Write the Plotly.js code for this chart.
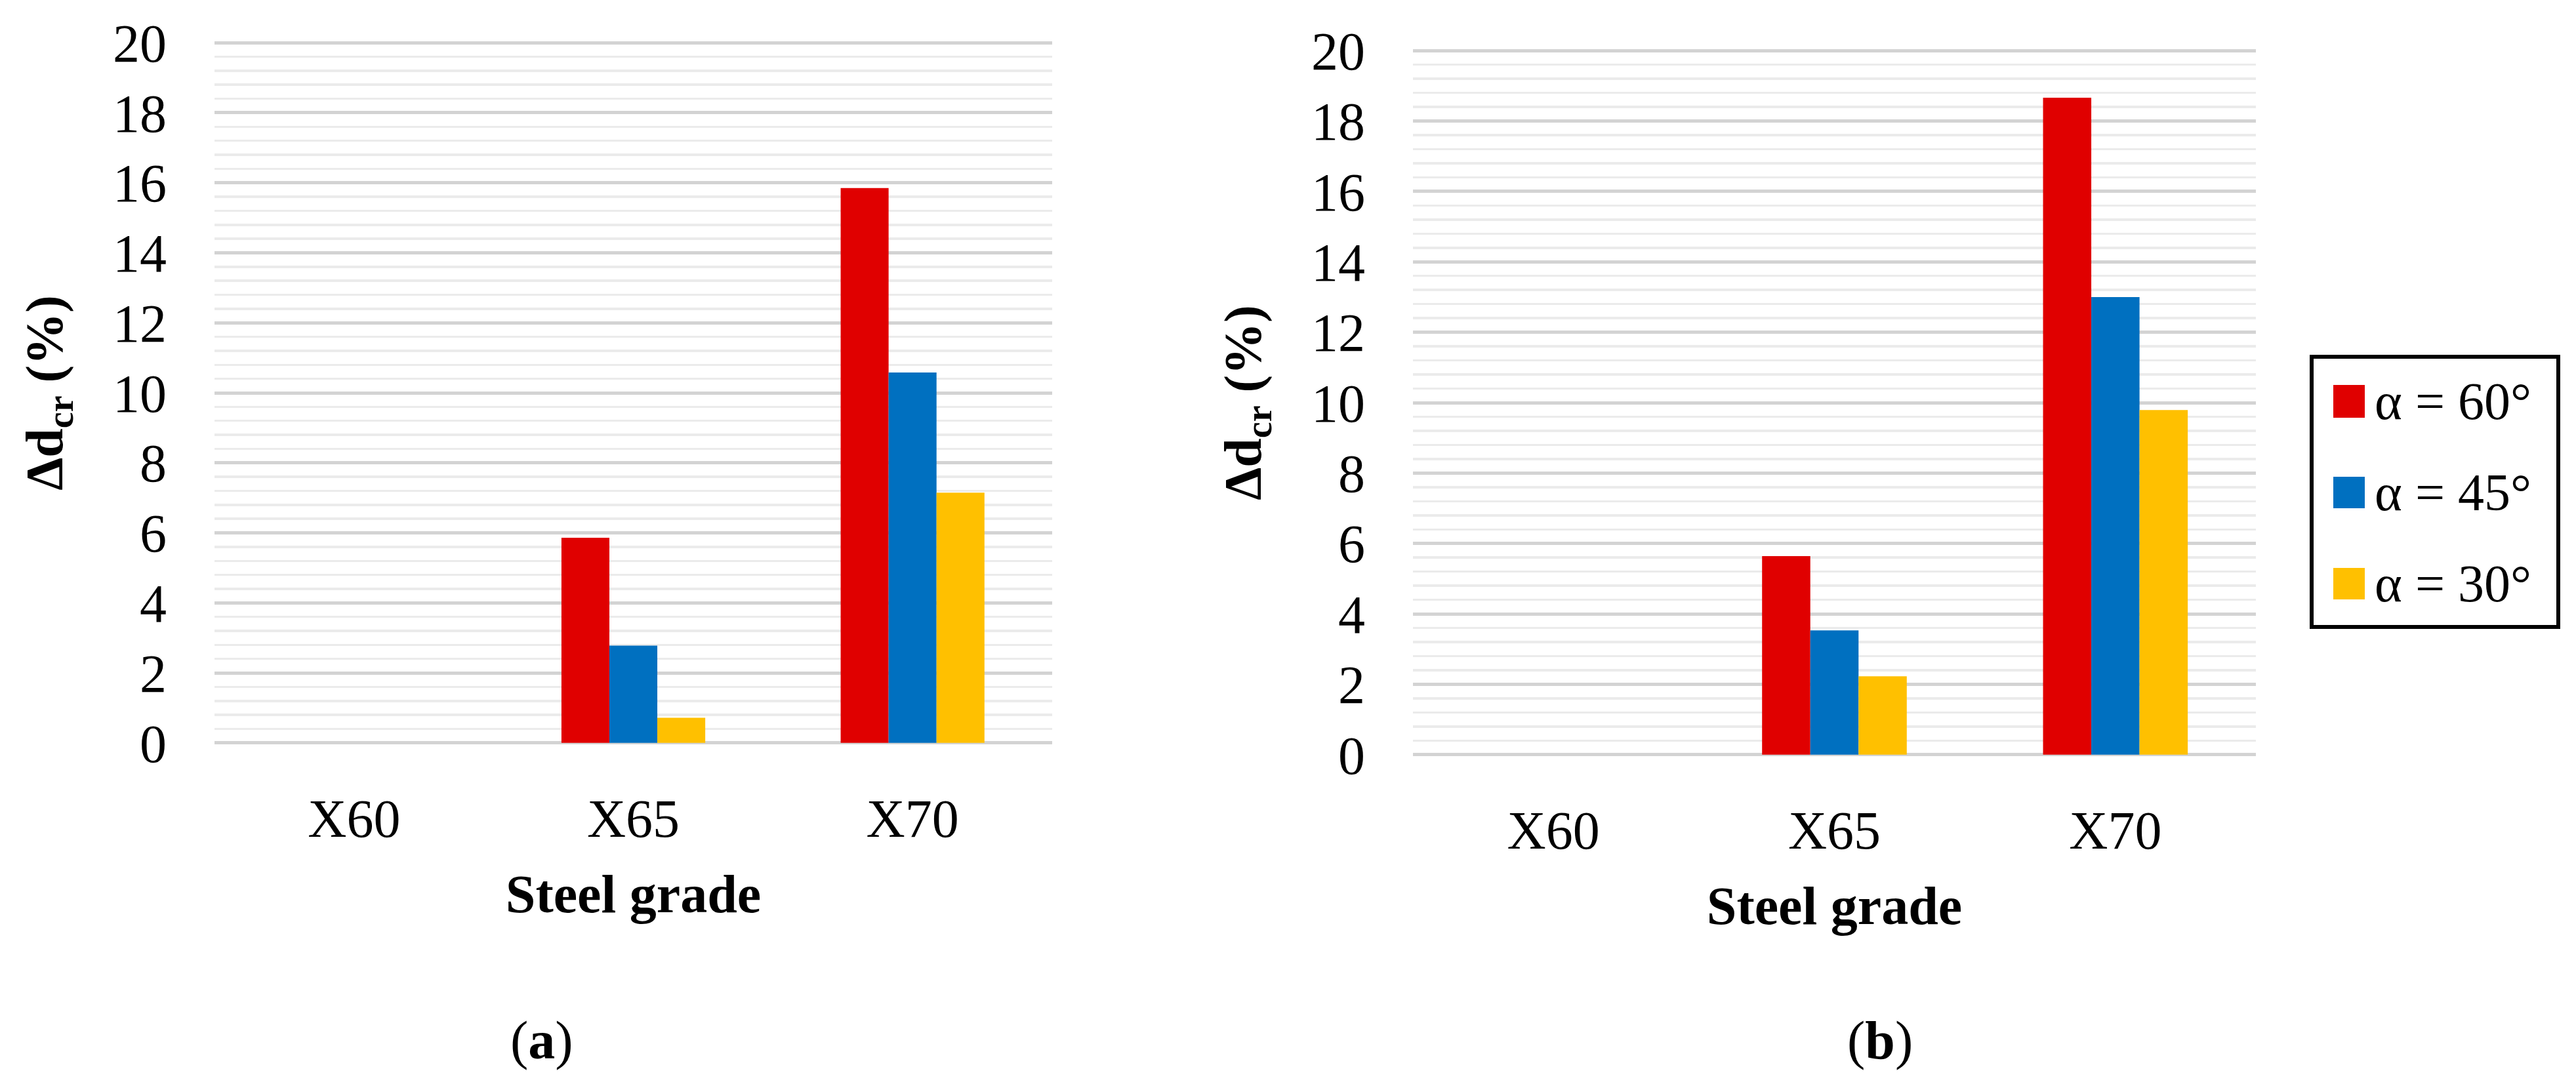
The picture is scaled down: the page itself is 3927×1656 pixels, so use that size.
<!DOCTYPE html>
<html>
<head>
<meta charset="utf-8">
<script src="https://cdn.plot.ly/plotly-3.0.1.min.js"></script>
<style>html,body{margin:0;padding:0;background:#fff;}</style>
</head>
<body>
<div id="chart" style="width:3927px;height:1656px;"></div>
<script>
// ---- data ----
var categories = ['X60', 'X65', 'X70'];
var seriesNames = ['α = 60°', 'α = 45°', 'α = 30°'];
var seriesColors = ['#E00000', '#0070C0', '#FFC000'];
var a60 = [0, 5.86, 15.85];
var a45 = [0, 2.78, 10.58];
var a30 = [0, 0.72, 7.15];
var b60 = [0, 5.64, 18.66];
var b45 = [0, 3.53, 13.00];
var b30 = [0, 2.23, 9.79];
var yTickVals = [0, 2, 4, 6, 8, 10, 12, 14, 16, 18, 20];
var panelLabels = ['(<b>a</b>)', '(<b>b</b>)'];
var xTitle = 'Steel grade';
var yTitle = 'Δd<sub>cr</sub> (%)';

// ---- layout helpers ----
var W = 3927, H = 1656;
function px(x) { return x / W; }
function py(y) { return 1 - y / H; }
var FONT = 'Liberation Serif, Times New Roman, serif';

var seriesA = [a60, a45, a30];
var seriesB = [b60, b45, b30];
var traces = [];
seriesA.forEach(function (vals, i) {
  traces.push({type: 'bar', x: categories, y: vals, name: seriesNames[i],
    marker: {color: seriesColors[i], line: {width: 0}}, xaxis: 'x', yaxis: 'y', showlegend: false});
});
seriesB.forEach(function (vals, i) {
  traces.push({type: 'bar', x: categories, y: vals, name: seriesNames[i],
    marker: {color: seriesColors[i], line: {width: 0}}, xaxis: 'x2', yaxis: 'y2', showlegend: false});
});

function yAxis(domain, anchor) {
  return {
    domain: domain, anchor: anchor, range: [-0.04, 20.04], tickvals: yTickVals,
    showline: false, zeroline: false, ticks: '',
    showgrid: true, gridcolor: '#d3d3d3', gridwidth: 5,
    minor: {dtick: 0.4, tick0: 0, showgrid: true, gridcolor: '#ebebeb', gridwidth: 3.5, ticks: ''},
    tickfont: {family: FONT, size: 82, color: '#000'},
    ticklabelstandoff: 72,
    title: {text: yTitle, font: {family: FONT, size: 80, color: '#000', weight: 700}, standoff: 50}
  };
}
function xAxis(domain, anchor) {
  return {
    domain: domain, anchor: anchor, type: 'category',
    showline: false, showgrid: false, zeroline: false, ticks: '',
    tickfont: {family: FONT, size: 82, color: '#000'},
    ticklabelstandoff: 58,
    title: {text: xTitle, font: {family: FONT, size: 82, color: '#000', weight: 700}, standoff: 40}
  };
}

var shapes = [{type: 'rect', xref: 'paper', yref: 'paper',
  x0: px(3524), x1: px(3900), y0: py(956), y1: py(544),
  line: {color: '#000', width: 6}, fillcolor: 'rgba(0,0,0,0)'}];
var swatchY = [[587, 637], [727, 775], [866, 914]];
var annotations = [];
seriesNames.forEach(function (n, i) {
  shapes.push({type: 'rect', xref: 'paper', yref: 'paper',
    x0: px(3557), x1: px(3605), y0: py(swatchY[i][1]), y1: py(swatchY[i][0]),
    line: {width: 0}, fillcolor: seriesColors[i]});
  annotations.push({xref: 'paper', yref: 'paper', x: px(3618), y: py((swatchY[i][0] + swatchY[i][1]) / 2),
    xanchor: 'left', yanchor: 'middle', text: n, showarrow: false,
    font: {family: FONT, size: 80, color: '#000'}});
});
annotations.push({xref: 'paper', yref: 'paper', x: px(826), y: py(1586), xanchor: 'center', yanchor: 'middle',
  text: panelLabels[0], showarrow: false, font: {family: FONT, size: 82, color: '#000'}});
annotations.push({xref: 'paper', yref: 'paper', x: px(2866), y: py(1586), xanchor: 'center', yanchor: 'middle',
  text: panelLabels[1], showarrow: false, font: {family: FONT, size: 82, color: '#000'}});

var layout = {
  width: W, height: H,
  margin: {l: 0, r: 0, t: 0, b: 0, pad: 0},
  paper_bgcolor: '#fff', plot_bgcolor: '#fff',
  barmode: 'group', bargap: 0.485, bargroupgap: 0,
  showlegend: false,
  xaxis: xAxis([px(327), px(1604)], 'y'),
  yaxis: yAxis([py(1135), py(63)], 'x'),
  xaxis2: xAxis([px(2154), px(3439)], 'y2'),
  yaxis2: yAxis([py(1153), py(75)], 'x2'),
  shapes: shapes,
  annotations: annotations
};

Plotly.newPlot('chart', traces, layout, {staticPlot: true, displayModeBar: false});
</script>
</body>
</html>
